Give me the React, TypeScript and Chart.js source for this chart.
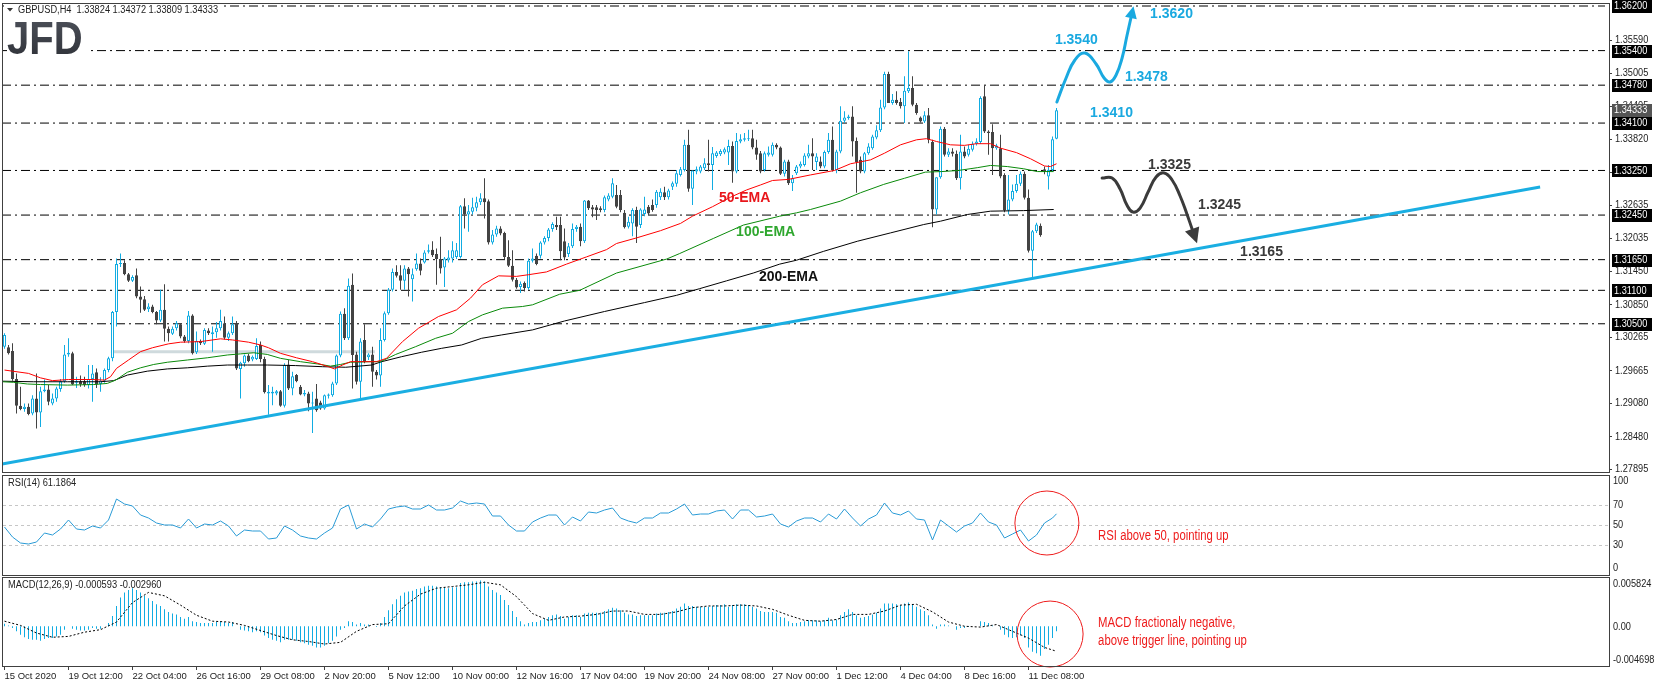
import React, { useEffect, useRef } from "react";
import { Chart, registerables } from "chart.js";

Chart.register(...registerables);
Chart.defaults.font.family = '"Liberation Sans", Arial, sans-serif';

// ---------------- text ----------------
const headerText = "GBPUSD,H4  1.33824 1.34372 1.33809 1.34333";
const rsiTitle = "RSI(14) 61.1864";
const macdTitle = "MACD(12,26,9) -0.000593 -0.002960";

// ---------------- x axis ----------------
const xTickBars = [0, 16, 32, 48, 64, 80, 96, 112, 128, 144, 160, 176, 192, 208, 224, 240, 256];
const xTickLabels = ["15 Oct 2020", "19 Oct 12:00", "22 Oct 04:00", "26 Oct 16:00", "29 Oct 08:00", "2 Nov 20:00", "5 Nov 12:00", "10 Nov 00:00", "12 Nov 16:00", "17 Nov 04:00", "19 Nov 20:00", "24 Nov 08:00", "27 Nov 00:00", "1 Dec 12:00", "4 Dec 04:00", "8 Dec 16:00", "11 Dec 08:00"];

// ---------------- candles (H4) ----------------
const opens = [
1.3009,1.3008,1.3001,1.2951,1.2903,1.2897,1.2901,1.2889,1.2916,1.2891,
1.2929,1.2932,1.2907,1.2916,1.2933,1.2947,1.2995,1.2997,1.2944,1.2947,
1.2947,1.2940,1.2951,1.2963,1.2942,1.2948,1.2967,1.2988,1.3071,1.3157,
1.3159,1.3139,1.3127,1.3137,1.3099,1.3094,1.3076,1.3081,1.3071,1.3056,
1.3075,1.3041,1.3032,1.3042,1.3049,1.3027,1.3019,1.3065,1.2999,1.3019,
1.3014,1.3038,1.3031,1.3035,1.3042,1.3051,1.3025,1.3033,1.3051,1.2969,
1.2979,1.2993,1.2986,1.2987,1.3012,1.2987,1.2925,1.2925,1.2925,1.2929,
1.2903,1.2977,1.2934,1.2958,1.2937,1.2923,1.2925,1.2907,1.2916,1.2909,
1.2898,1.2921,1.2922,1.2943,1.2993,1.3068,1.3024,1.3120,1.2995,1.2946,
1.3021,1.2990,1.2995,1.2964,1.2957,1.3021,1.3069,1.3111,1.3143,1.3137,
1.3127,1.3149,1.3130,1.3148,1.3158,1.3160,1.3179,1.3183,1.3175,1.3166,
1.3151,1.3164,1.3167,1.3170,1.3170,1.3261,1.3246,1.3251,1.3258,1.3268,
1.3275,1.3270,1.3196,1.3210,1.3221,1.3213,1.3170,1.3154,1.3129,1.3116,
1.3123,1.3114,1.3163,1.3172,1.3172,1.3196,1.3204,1.3220,1.3227,1.3227,
1.3198,1.3175,1.3189,1.3220,1.3224,1.3198,1.3271,1.3259,1.3259,1.3257,
1.3254,1.3273,1.3278,1.3281,1.3281,1.3249,1.3224,1.3230,1.3254,1.3227,
1.3247,1.3260,1.3263,1.3263,1.3277,1.3286,1.3277,1.3296,1.3301,1.3317,
1.3326,1.3371,1.3292,1.3323,1.3323,1.3329,1.3338,1.3335,1.3351,1.3354,
1.3357,1.3357,1.3369,1.3323,1.3377,1.3380,1.3381,1.3383,1.3366,1.3356,
1.3326,1.3353,1.3353,1.3371,1.3366,1.3319,1.3341,1.3302,1.3320,1.3332,
1.3335,1.3350,1.3356,1.3340,1.3341,1.3332,1.3358,1.3380,1.3325,1.3359,
1.3414,1.3419,1.3422,1.3378,1.3344,1.3323,1.3356,1.3365,1.3384,1.3397,
1.3438,1.3498,1.3446,1.3452,1.3448,1.3440,1.3467,1.3473,1.3443,1.3420,
1.3413,1.3424,1.3376,1.3255,1.3313,1.3400,1.3353,1.3359,1.3355,1.3311,
1.3359,1.3353,1.3362,1.3373,1.3376,1.3458,1.3395,1.3394,1.3365,1.3365,
1.3317,1.3253,1.3273,1.3288,1.3301,1.3319,1.3276,1.3181,1.3216,1.3226,
1.3327,1.3314,1.3326,1.3382];
const highs = [
1.3033,1.3012,1.3015,1.2961,1.2937,1.2907,1.2907,1.2922,1.2961,1.2937,
1.2950,1.2940,1.2925,1.2937,1.2951,1.3012,1.3024,1.3000,1.2955,1.2957,
1.2955,1.2976,1.2976,1.2970,1.2954,1.2970,1.2991,1.3073,1.3167,1.3176,
1.3164,1.3141,1.3137,1.3149,1.3117,1.3100,1.3087,1.3084,1.3073,1.3111,
1.3121,1.3045,1.3045,1.3055,1.3051,1.3030,1.3073,1.3067,1.3036,1.3022,
1.3042,1.3042,1.3045,1.3053,1.3075,1.3063,1.3036,1.3063,1.3055,1.2982,
1.2995,1.2996,1.2993,1.3024,1.3018,1.2991,1.2940,1.2937,1.2931,1.2931,
1.2979,1.2985,1.2964,1.2960,1.2940,1.2931,1.2928,1.2928,1.2942,1.2912,
1.2923,1.2925,1.2946,1.2995,1.3072,1.3078,1.3131,1.3140,1.3000,1.3024,
1.3049,1.2997,1.3009,1.2967,1.3042,1.3072,1.3114,1.3149,1.3155,1.3155,
1.3155,1.3152,1.3149,1.3176,1.3167,1.3182,1.3192,1.3198,1.3185,1.3206,
1.3170,1.3182,1.3198,1.3195,1.3263,1.3275,1.3263,1.3276,1.3278,1.3284,
1.3311,1.3273,1.3218,1.3226,1.3225,1.3215,1.3200,1.3182,1.3132,1.3126,
1.3126,1.3167,1.3185,1.3176,1.3198,1.3207,1.3222,1.3232,1.3242,1.3242,
1.3221,1.3195,1.3230,1.3227,1.3230,1.3272,1.3272,1.3263,1.3263,1.3261,
1.3280,1.3284,1.3311,1.3299,1.3290,1.3254,1.3242,1.3257,1.3260,1.3257,
1.3278,1.3263,1.3273,1.3290,1.3293,1.3296,1.3292,1.3305,1.3326,1.3331,
1.3380,1.3398,1.3325,1.3332,1.3335,1.3347,1.3380,1.3367,1.3360,1.3363,
1.3366,1.3380,1.3377,1.3392,1.3390,1.3392,1.3398,1.3398,1.3380,1.3360,
1.3359,1.3368,1.3375,1.3374,1.3368,1.3344,1.3344,1.3317,1.3335,1.3341,
1.3356,1.3371,1.3383,1.3356,1.3350,1.3361,1.3392,1.3404,1.3362,1.3440,
1.3431,1.3425,1.3440,1.3384,1.3350,1.3358,1.3374,1.3389,1.3406,1.3452,
1.3502,1.3502,1.3462,1.3467,1.3455,1.3494,1.3539,1.3494,1.3446,1.3422,
1.3431,1.3437,1.3380,1.3313,1.3404,1.3403,1.3365,1.3365,1.3361,1.3389,
1.3368,1.3371,1.3377,1.3383,1.3458,1.3478,1.3397,1.3408,1.3373,1.3389,
1.3320,1.3317,1.3300,1.3317,1.3323,1.3323,1.3291,1.3218,1.3231,1.3230,
1.3332,1.3335,1.3386,1.3437];
const lows = [
1.3005,1.2995,1.2948,1.2889,1.2895,1.2892,1.2886,1.2886,1.2862,1.2865,
1.2927,1.2904,1.2904,1.2910,1.2928,1.2944,1.2991,1.2940,1.2935,1.2937,
1.2937,1.2934,1.2910,1.2935,1.2928,1.2944,1.2963,1.2983,1.3045,1.3152,
1.3137,1.3125,1.3125,1.3096,1.3070,1.3073,1.3071,1.3069,1.3049,1.3053,
1.3018,1.3018,1.3030,1.3038,1.3024,1.3016,1.3015,1.2995,1.2996,1.3012,
1.3012,1.3030,1.3000,1.3025,1.3038,1.3022,1.3019,1.3030,1.2967,1.2916,
1.2973,1.2981,1.2983,1.2985,1.2981,1.2925,1.2887,1.2904,1.2922,1.2901,
1.2900,1.2931,1.2922,1.2945,1.2922,1.2920,1.2893,1.2854,1.2892,1.2896,
1.2896,1.2916,1.2919,1.2940,1.2990,1.3021,1.3021,1.2934,1.2941,1.2916,
1.2979,1.2985,1.2937,1.2950,1.2937,1.3018,1.3066,1.3108,1.3133,1.3111,
1.3111,1.3099,1.3090,1.3145,1.3137,1.3158,1.3176,1.3170,1.3120,1.3140,
1.3116,1.3160,1.3160,1.3166,1.3167,1.3221,1.3215,1.3246,1.3252,1.3263,
1.3239,1.3192,1.3192,1.3206,1.3209,1.3166,1.3152,1.3126,1.3113,1.3105,
1.3108,1.3111,1.3160,1.3155,1.3167,1.3192,1.3198,1.3215,1.3218,1.3164,
1.3164,1.3170,1.3186,1.3215,1.3189,1.3195,1.3254,1.3241,1.3236,1.3250,
1.3250,1.3270,1.3275,1.3257,1.3250,1.3221,1.3221,1.3207,1.3195,1.3222,
1.3243,1.3245,1.3251,1.3258,1.3272,1.3272,1.3273,1.3290,1.3296,1.3314,
1.3323,1.3287,1.3263,1.3318,1.3320,1.3326,1.3323,1.3290,1.3348,1.3351,
1.3354,1.3335,1.3303,1.3320,1.3374,1.3377,1.3378,1.3363,1.3344,1.3320,
1.3323,1.3350,1.3350,1.3363,1.3317,1.3314,1.3299,1.3288,1.3317,1.3329,
1.3332,1.3347,1.3326,1.3326,1.3329,1.3329,1.3355,1.3323,1.3320,1.3356,
1.3410,1.3416,1.3350,1.3285,1.3320,1.3320,1.3353,1.3362,1.3381,1.3394,
1.3435,1.3446,1.3443,1.3443,1.3436,1.3410,1.3464,1.3440,1.3425,1.3411,
1.3410,1.3374,1.3223,1.3246,1.3310,1.3350,1.3349,1.3350,1.3308,1.3291,
1.3347,1.3350,1.3359,1.3370,1.3373,1.3392,1.3353,1.3317,1.3362,1.3311,
1.3250,1.3246,1.3270,1.3285,1.3297,1.3273,1.3178,1.3132,1.3213,1.3206,
1.3318,1.3291,1.3323,1.3381];
const closes = [
1.3030,1.2997,1.2951,1.2903,1.2897,1.2901,1.2888,1.2916,1.2891,1.2929,
1.2932,1.2910,1.2916,1.2934,1.2947,1.2995,1.2998,1.2941,1.2947,1.2942,
1.2940,1.2951,1.2961,1.2941,1.2948,1.2967,1.2988,1.3071,1.3157,1.3159,
1.3139,1.3127,1.3134,1.3099,1.3093,1.3075,1.3081,1.3071,1.3056,1.3075,
1.3041,1.3033,1.3041,1.3051,1.3027,1.3019,1.3065,1.2997,1.3019,1.3015,
1.3039,1.3033,1.3035,1.3042,1.3055,1.3025,1.3033,1.3049,1.2970,1.2980,
1.2993,1.2983,1.2991,1.3010,1.2987,1.2927,1.2928,1.2928,1.2929,1.2903,
1.2976,1.2934,1.2956,1.2947,1.2923,1.2926,1.2907,1.2909,1.2895,1.2898,
1.2922,1.2923,1.2943,1.2993,1.3068,1.3024,1.3118,1.2994,1.2946,1.3018,
1.2982,1.2995,1.2964,1.2957,1.3021,1.3069,1.3111,1.3143,1.3136,1.3127,
1.3149,1.3139,1.3139,1.3158,1.3145,1.3178,1.3182,1.3173,1.3166,1.3149,
1.3167,1.3169,1.3182,1.3182,1.3261,1.3246,1.3252,1.3259,1.3268,1.3275,
1.3268,1.3196,1.3210,1.3221,1.3212,1.3170,1.3154,1.3129,1.3115,1.3122,
1.3114,1.3163,1.3167,1.3157,1.3196,1.3204,1.3219,1.3229,1.3223,1.3180,
1.3169,1.3189,1.3220,1.3224,1.3198,1.3271,1.3257,1.3255,1.3254,1.3254,
1.3277,1.3280,1.3302,1.3260,1.3254,1.3223,1.3233,1.3254,1.3224,1.3255,
1.3255,1.3248,1.3254,1.3287,1.3287,1.3277,1.3289,1.3302,1.3320,1.3327,
1.3371,1.3292,1.3325,1.3327,1.3332,1.3338,1.3335,1.3356,1.3357,1.3360,
1.3363,1.3369,1.3323,1.3378,1.3381,1.3383,1.3383,1.3366,1.3353,1.3323,
1.3356,1.3357,1.3371,1.3366,1.3319,1.3341,1.3302,1.3311,1.3332,1.3337,
1.3352,1.3356,1.3350,1.3350,1.3332,1.3358,1.3380,1.3325,1.3359,1.3414,
1.3420,1.3422,1.3377,1.3340,1.3323,1.3356,1.3368,1.3386,1.3397,1.3438,
1.3498,1.3446,1.3452,1.3446,1.3440,1.3468,1.3473,1.3443,1.3428,1.3413,
1.3424,1.3380,1.3255,1.3313,1.3400,1.3353,1.3359,1.3355,1.3311,1.3359,
1.3350,1.3364,1.3373,1.3377,1.3455,1.3395,1.3392,1.3365,1.3370,1.3314,
1.3253,1.3273,1.3288,1.3301,1.3319,1.3276,1.3181,1.3216,1.3228,1.3209,
1.3323,1.3326,1.3381,1.3433];

// ---------------- moving averages (bar index, value) ----------------
const ema50Bars = [0,2,6,9,12,16,19,22,25,26.5,28,31,34,37,41,44,49,54,57,61,64,66,69,73,77,81,82.5,84.5,86.5,93,95.5,99.5,103.5,108.5,113,116.5,119.5,123.5,128,131,135.5,140.5,145.5,150.5,153,158,164,169,172,177,181.5,185.5,189,192,196,201.5,207.5,211.5,216.5,220,224,228,230.5,233,236.5,240,243,246.5,249,253,256.5,260,261.5,263];
const ema50Vals = [1.2967,1.2965,1.2961,1.2953,1.2948,1.2950,1.2950,1.2950,1.2949,1.2955,1.2970,1.2985,1.3000,1.3007,1.3014,1.3017,1.3018,1.3023,1.3021,1.3017,1.3012,1.3007,1.2997,1.2989,1.2982,1.2973,1.2969,1.2976,1.2982,1.2982,1.2988,1.3018,1.3042,1.3063,1.3075,1.3096,1.3120,1.3136,1.3135,1.3138,1.3143,1.3157,1.3170,1.3183,1.3194,1.3204,1.3217,1.3230,1.3243,1.3260,1.3277,1.3290,1.3299,1.3307,1.3309,1.3317,1.3325,1.3337,1.3344,1.3356,1.3371,1.3380,1.3382,1.3377,1.3371,1.3370,1.3373,1.3373,1.3365,1.3357,1.3346,1.3333,1.3332,1.3337];
const ema100Bars = [-0.5,2.3,5.7,9,15.7,22.3,25.7,27.8,30.7,34,37.3,40.7,45.7,50.7,55.7,59,62.3,65.7,69,74,78.2,81.5,84,86.5,91.5,94,97.8,102.8,107.8,112,116,119.5,124.5,129.5,132,138.8,143.8,153,165.5,168.8,177.2,184.7,193.8,198,201.5,209,214,219.8,225,230.2,234.3,238.5,243.2,246.5,250.7,254.8,258.2,262.3];
const ema100Vals = [1.2946,1.2945,1.2942,1.2941,1.2940,1.2941,1.2943,1.2949,1.2963,1.2971,1.2977,1.2981,1.2985,1.2989,1.2994,1.2996,1.2998,1.2995,1.2988,1.2982,1.2978,1.2974,1.2977,1.2981,1.2982,1.2982,1.2995,1.3009,1.3024,1.3033,1.3054,1.3066,1.3078,1.3081,1.3084,1.3103,1.3110,1.3141,1.3166,1.3176,1.3203,1.3227,1.3243,1.3249,1.3255,1.3270,1.3285,1.3300,1.3311,1.3322,1.3323,1.3325,1.3330,1.3334,1.3332,1.3328,1.3323,1.3323];
const ema200Bars = [-0.5,7.3,15.7,24,27.3,30.7,35.7,40.7,45.7,50.7,55.7,60.7,65.7,72.8,79.5,85.3,91.8,94.3,99.3,104.3,109.3,114.3,119.3,124.3,132,140,150,160,168,173.8,180.5,187.2,193.8,198,204.8,213.2,221.5,229.8,234,240.7,246.5,254.8,262.3];
const ema200Vals = [1.2947,1.2946,1.2946,1.2946,1.2948,1.2958,1.2965,1.2969,1.2971,1.2974,1.2976,1.2976,1.2976,1.2975,1.2973,1.2972,1.2976,1.2982,1.2991,1.2999,1.3006,1.3012,1.3024,1.3030,1.3039,1.3055,1.3072,1.3088,1.3101,1.3113,1.3127,1.3141,1.3157,1.3164,1.3180,1.3198,1.3213,1.3228,1.3234,1.3246,1.3252,1.3253,1.3255];

// ---------------- drawn objects (bar index, price) ----------------
const levelPrices = [1.362, 1.354, 1.3478, 1.341, 1.3325, 1.3245, 1.3165, 1.311, 1.305];
const trendBars = [-0.625, 383.9];
const trendPrices = [1.27985, 1.32953];
const bandBars = [26.6, 92.6];
const bandPrices = [1.3, 1.3];
const bluePathBars = [263.1, 265.4, 267.6, 270.1, 272.9, 274.9, 276.4, 277.9, 279.4, 280.6, 281.6];
const bluePathPrices = [1.34478, 1.34908, 1.35231, 1.35357, 1.3516, 1.34908, 1.34837, 1.34962, 1.35267, 1.35662, 1.35985];
const blackPathBars = [274.4, 276.9, 278.9, 280.6, 282.1, 283.9, 285.9, 287.9, 289.9, 291.9, 293.9, 295.6, 296.9];
const blackPathPrices = [1.33114, 1.33114, 1.32917, 1.3263, 1.32504, 1.32576, 1.32863, 1.33133, 1.33205, 1.33079, 1.32792, 1.32469, 1.322];

const blueNotes = ["1.3620", "1.3540", "1.3478", "1.3410"];
const blueNoteBars = [286.4, 262.6, 280.1, 271.4];
const blueNotePrices = [1.36056, 1.3559, 1.34926, 1.34281];
const darkNotes = ["1.3325", "1.3245", "1.3165"];
const darkNoteBars = [285.9, 298.4, 308.9];
const darkNotePrices = [1.33348, 1.32631, 1.31787];
const emaNotes = ["50-EMA", "100-EMA", "200-EMA"];
const emaNoteBars = [178.6, 182.9, 188.6];
const emaNotePrices = [1.32756, 1.32146, 1.31339];
const emaNoteColors = ["#e8161b", "#2fa72f", "#111111"];

// ---------------- price axis ----------------
const priceTicks = [1.3559, 1.35005, 1.34405, 1.3382, 1.3322, 1.32635, 1.32035, 1.3145, 1.3085, 1.30265, 1.29665, 1.2908, 1.2848, 1.27895];
const lastPrice = 1.34333;

// ---------------- RSI(14) ----------------
const rsiStep = 2;
const rsiVals = [
48,38,32,31,33,42,40,46,55,46,
45,49,47,55,76,71,69,60,57,52,
50,50,47,56,47,51,50,54,49,39,
45,44,44,36,37,49,45,39,37,36,
42,47,66,70,46,51,48,56,66,68,
69,66,66,70,65,65,67,74,71,72,
71,59,59,50,44,44,53,57,60,60,
50,58,54,63,62,65,67,57,54,52,
57,57,62,62,66,71,60,61,61,64,
65,56,65,65,58,59,61,51,48,54,
57,57,53,61,56,66,57,49,56,60,
72,62,60,64,56,55,35,55,49,43,
49,52,62,53,50,37,41,45,34,40,
52,57];
const rsiLastBar = 263;
const rsiLastVal = 61.1864;
const rsiLevels = [70, 50, 30];
const rsiAxisLabels = [100, 70, 50, 30, 0];

// ---------------- MACD(12,26,9) ----------------
const macdHist = [
0.0003,0.0001,-0.0002,-0.0006,-0.0010,-0.0013,-0.0015,-0.0016,-0.0016,-0.0017,
-0.0015,-0.0014,-0.0014,-0.0012,-0.0010,-0.0004,0.0000,-0.0003,-0.0004,-0.0005,
-0.0005,-0.0004,-0.0002,-0.0003,-0.0003,0.0000,0.0004,0.0012,0.0024,0.0034,
0.0040,0.0043,0.0045,0.0043,0.0040,0.0036,0.0033,0.0030,0.0026,0.0024,
0.0020,0.0017,0.0015,0.0014,0.0011,0.0009,0.0011,0.0006,0.0005,0.0004,
0.0004,0.0004,0.0004,0.0005,0.0006,0.0005,0.0004,0.0005,0.0000,-0.0004,
-0.0005,-0.0006,-0.0007,-0.0006,-0.0007,-0.0011,-0.0014,-0.0016,-0.0017,-0.0019,
-0.0016,-0.0016,-0.0016,-0.0017,-0.0019,-0.0020,-0.0022,-0.0023,-0.0025,-0.0025,
-0.0023,-0.0020,-0.0017,-0.0012,-0.0004,-0.0002,0.0006,0.0005,0.0002,0.0004,
0.0002,0.0002,0.0000,-0.0001,0.0004,0.0011,0.0019,0.0026,0.0032,0.0036,
0.0040,0.0041,0.0042,0.0044,0.0045,0.0047,0.0048,0.0048,0.0047,0.0046,
0.0046,0.0045,0.0046,0.0046,0.0051,0.0052,0.0052,0.0053,0.0053,0.0054,
0.0053,0.0047,0.0043,0.0040,0.0037,0.0031,0.0025,0.0018,0.0011,0.0006,
0.0002,0.0004,0.0005,0.0005,0.0007,0.0009,0.0011,0.0013,0.0014,0.0012,
0.0009,0.0011,0.0013,0.0013,0.0011,0.0015,0.0016,0.0016,0.0016,0.0016,
0.0018,0.0020,0.0022,0.0021,0.0019,0.0016,0.0014,0.0014,0.0012,0.0013,
0.0013,0.0013,0.0013,0.0015,0.0016,0.0016,0.0017,0.0018,0.0021,0.0023,
0.0027,0.0024,0.0024,0.0023,0.0023,0.0023,0.0023,0.0024,0.0025,0.0025,
0.0026,0.0023,0.0025,0.0026,0.0026,0.0026,0.0025,0.0023,0.0021,0.0018,
0.0017,0.0017,0.0017,0.0016,0.0011,0.0010,0.0006,0.0004,0.0004,0.0005,
0.0006,0.0007,0.0007,0.0007,0.0006,0.0007,0.0010,0.0007,0.0008,0.0013,
0.0017,0.0020,0.0017,0.0013,0.0010,0.0011,0.0012,0.0014,0.0016,0.0021,
0.0027,0.0027,0.0027,0.0026,0.0025,0.0027,0.0028,0.0026,0.0023,0.0020,
0.0018,0.0013,0.0002,-0.0003,0.0002,0.0002,0.0001,0.0000,-0.0004,-0.0002,
-0.0002,-0.0001,0.0000,0.0000,0.0006,0.0005,0.0004,0.0001,0.0000,-0.0004,
-0.0010,-0.0013,-0.0014,-0.0013,-0.0011,-0.0014,-0.0025,-0.0030,-0.0032,-0.0035,
-0.0027,-0.0022,-0.0014,-0.000593];
const signalBars = [0,4,8,12,16,20,24,28,32,36,40,44,48,52,56,60,64,68,72,76,80,84,88,92,96,100,104,108,112,116,120,124,128,132,136,140,144,148,152,156,160,164,168,172,176,180,184,188,192,196,200,204,208,212,216,220,224,228,232,236,240,244,248,252,256,260,263];
const signalVals = [0.0006,0.0001,-0.0008,-0.0013,-0.0012,-0.0007,-0.0004,0.0005,0.0028,0.0040,0.0036,0.0025,0.0013,0.0006,0.0005,0.0001,-0.0005,-0.0011,-0.0016,-0.0018,-0.0021,-0.0019,-0.0006,0.0002,0.0003,0.0024,0.0038,0.0045,0.0047,0.0049,0.0052,0.0049,0.0035,0.0015,0.0007,0.0011,0.0012,0.0014,0.0018,0.0018,0.0014,0.0014,0.0017,0.0022,0.0024,0.0024,0.0025,0.0024,0.0020,0.0013,0.0007,0.0006,0.0008,0.0014,0.0014,0.0018,0.0025,0.0026,0.0017,0.0005,0.0000,-0.0001,0.0002,-0.0006,-0.0014,-0.0025,-0.00296];
const macdTop = 0.005824;
const macdBottom = -0.004698;

// ---------------- notes in the sub-windows ----------------
const rsiNote = "RSI above 50, pointing up";
const rsiNoteBar = 273.4;
const rsiNoteVal = 39;
const rsiCircleBar = 260.6;
const rsiCircleVal = 52;
const macdNotes = ["MACD fractionaly negative,", "above trigger line, pointing up"];
const macdNoteBar = 273.4;
const macdNoteVals = [0.00041, -0.00178];
const macdCircleBar = 261.4;
const macdCircleVal = -0.00092;

// ---------------- layout of the scales ----------------
const W = 1655;
const H = 687;
const X_MIN = -0.625;
const X_MAX = 401.125;
const PRICE_PX = 5575; // pixels per 1.0 of price
const Y_MAX = 1.362 + 3 / PRICE_PX;
const Y_MIN = 1.362 - 660 / PRICE_PX;
const MAIN_BOTTOM = 1.362 - 466 / PRICE_PX;
const RSI_MIN = -91;
const RSI_MAX = 572;
const M_SPAN = (macdTop - macdBottom) / 89;
const MACD_MIN = macdBottom;
const MACD_MAX = macdBottom + 663 * M_SPAN;

const CYAN = "#11ace2";
const DARK = "#434343";
const BLUE = "#1aa9e0";
const PATH_DARK = "#3b3b3b";
const SMALL_FONT = '10px "Liberation Sans", Arial, sans-serif';

const isUp = (i: number) => closes[i] >= opens[i];

function arrowHead(ctx: any, pts: number[][], color: string, size: number) {
  const n = pts.length;
  const [x0, y0] = pts[n - 2];
  const [x1, y1] = pts[n - 1];
  const len = Math.hypot(x1 - x0, y1 - y0) || 1;
  const dx = (x1 - x0) / len;
  const dy = (y1 - y0) / len;
  const tx = x1 + dx * size;
  const ty = y1 + dy * size;
  const half = size * 0.5;
  ctx.fillStyle = color;
  ctx.beginPath();
  ctx.moveTo(tx, ty);
  ctx.lineTo(x1 - dy * half, y1 + dx * half);
  ctx.lineTo(x1 + dy * half, y1 - dx * half);
  ctx.closePath();
  ctx.fill();
}

function narrowText(ctx: any, s: string, px: number, py: number, sx: number) {
  ctx.save();
  ctx.translate(px, py);
  ctx.scale(sx, 1);
  ctx.fillText(s, 0, 0);
  ctx.restore();
}

const overlay = {
  id: "overlay",
  beforeDatasetsDraw(chart: any) {
    const { ctx, chartArea: ca, scales } = chart;
    ctx.save();
    ctx.strokeStyle = "#c6c6c6";
    ctx.lineWidth = 1;
    ctx.setLineDash([3, 3]);
    for (const lv of rsiLevels) {
      const yy = Math.round(scales.yr.getPixelForValue(lv)) + 0.5;
      ctx.beginPath();
      ctx.moveTo(ca.left + 1, yy);
      ctx.lineTo(ca.right - 1, yy);
      ctx.stroke();
    }
    ctx.restore();
  },
  afterDatasetsDraw(chart: any) {
    const { ctx, chartArea: ca, scales } = chart;
    const { x, y, yr, ym } = scales;
    ctx.save();
    ctx.setLineDash([]);

    // arrowheads of the drawn paths
    arrowHead(ctx, bluePathBars.map((b, i) => [x.getPixelForValue(b), y.getPixelForValue(bluePathPrices[i])]), BLUE, 12);
    arrowHead(ctx, blackPathBars.map((b, i) => [x.getPixelForValue(b), y.getPixelForValue(blackPathPrices[i])]), PATH_DARK, 15);

    // labels in the main window
    ctx.textBaseline = "middle";
    ctx.textAlign = "left";
    ctx.font = 'bold 14px "Liberation Sans", Arial, sans-serif';
    ctx.fillStyle = BLUE;
    blueNotes.forEach((s, i) => ctx.fillText(s, x.getPixelForValue(blueNoteBars[i]), y.getPixelForValue(blueNotePrices[i])));
    ctx.fillStyle = "#3a3a3a";
    darkNotes.forEach((s, i) => ctx.fillText(s, x.getPixelForValue(darkNoteBars[i]), y.getPixelForValue(darkNotePrices[i])));
    emaNotes.forEach((s, i) => {
      ctx.fillStyle = emaNoteColors[i];
      ctx.fillText(s, x.getPixelForValue(emaNoteBars[i]), y.getPixelForValue(emaNotePrices[i]));
    });

    // header
    ctx.fillStyle = "#ffffff";
    ctx.fillRect(4, 4, 216, 12);
    ctx.fillStyle = "#333";
    ctx.beginPath();
    ctx.moveTo(7, 8);
    ctx.lineTo(13, 8);
    ctx.lineTo(10, 11.5);
    ctx.closePath();
    ctx.fill();
    ctx.font = SMALL_FONT;
    ctx.fillStyle = "#222";
    narrowText(ctx, headerText, 18, 10.5, 0.925);

    // logo
    ctx.fillStyle = "#ffffff";
    ctx.fillRect(7, 17, 81, 40);
    ctx.save();
    ctx.translate(7, 54);
    ctx.scale(0.87, 1);
    ctx.textBaseline = "alphabetic";
    ctx.font = 'bold 46px "Liberation Sans", Arial, sans-serif';
    const grad = ctx.createLinearGradient(0, -34, 0, 0);
    grad.addColorStop(0, "#4a4e57");
    grad.addColorStop(1, "#33363d");
    ctx.fillStyle = grad;
    ctx.fillText("JFD", 0, 0);
    ctx.restore();

    // sub-window titles
    ctx.font = SMALL_FONT;
    ctx.fillStyle = "#222";
    narrowText(ctx, rsiTitle, 8, yr.getPixelForValue(100) + 8.5, 0.93);
    narrowText(ctx, macdTitle, 8, ym.getPixelForValue(macdTop) + 8.5, 0.93);

    // red circles and notes
    ctx.strokeStyle = "#ee1c1c";
    ctx.lineWidth = 1;
    ctx.beginPath();
    ctx.arc(x.getPixelForValue(rsiCircleBar), yr.getPixelForValue(rsiCircleVal), 32, 0, Math.PI * 2);
    ctx.stroke();
    ctx.beginPath();
    ctx.arc(x.getPixelForValue(macdCircleBar), ym.getPixelForValue(macdCircleVal), 33, 0, Math.PI * 2);
    ctx.stroke();
    ctx.fillStyle = "#ee1c1c";
    ctx.font = '14px "Liberation Sans", Arial, sans-serif';
    narrowText(ctx, rsiNote, x.getPixelForValue(rsiNoteBar), yr.getPixelForValue(rsiNoteVal), 0.81);
    macdNotes.forEach((s, i) => narrowText(ctx, s, x.getPixelForValue(macdNoteBar), ym.getPixelForValue(macdNoteVals[i]), 0.81));

    // panel frames
    ctx.strokeStyle = "#404040";
    ctx.lineWidth = 1;
    const frame = (t: number, b: number) => {
      const tt = Math.round(t) + 0.5;
      const bb = Math.round(b) + 0.5;
      ctx.strokeRect(ca.left + 0.5, tt, ca.right - ca.left, bb - tt);
    };
    frame(y.getPixelForValue(Y_MAX), y.getPixelForValue(MAIN_BOTTOM));
    frame(yr.getPixelForValue(100), yr.getPixelForValue(0));
    frame(ym.getPixelForValue(macdTop), ym.getPixelForValue(macdBottom));

    // right price axis
    const ax = ca.right + 1;
    const SX = 0.92;
    ctx.font = SMALL_FONT;
    ctx.fillStyle = "#222";
    ctx.strokeStyle = "#404040";
    for (const p of priceTicks) {
      const yy = y.getPixelForValue(p);
      ctx.beginPath();
      ctx.moveTo(ca.right, Math.round(yy) + 0.5);
      ctx.lineTo(ca.right + 3, Math.round(yy) + 0.5);
      ctx.stroke();
      narrowText(ctx, p.toFixed(5), ax + 5, yy + 0.5, SX);
    }
    for (const p of levelPrices) {
      const yy = y.getPixelForValue(p);
      ctx.fillStyle = "#000";
      ctx.fillRect(ax + 2, Math.round(yy) - 6, 40, 13);
      ctx.fillStyle = "#fff";
      narrowText(ctx, p.toFixed(5), ax + 4, yy + 0.5, SX);
    }
    {
      const yy = y.getPixelForValue(lastPrice);
      ctx.fillStyle = "#555";
      ctx.fillRect(ax + 2, Math.round(yy) - 6, 40, 13);
      ctx.fillStyle = "#fff";
      narrowText(ctx, lastPrice.toFixed(5), ax + 4, yy + 0.5, SX);
    }
    // RSI axis
    ctx.fillStyle = "#222";
    for (const v of rsiAxisLabels) {
      let yy = yr.getPixelForValue(v);
      if (v === 100) yy += 6;
      if (v === 0) yy -= 7;
      narrowText(ctx, String(v), ax + 3, yy, SX);
    }
    // MACD axis
    narrowText(ctx, macdTop.toFixed(6), ax + 3, ym.getPixelForValue(macdTop) + 7, SX);
    narrowText(ctx, "0.00", ax + 3, ym.getPixelForValue(0) + 0.5, SX);
    narrowText(ctx, macdBottom.toFixed(6), ax + 3, ym.getPixelForValue(macdBottom) - 6, SX);
    ctx.restore();
  },
};

function buildConfig(): any {
  const xy = (bars: number[], vals: number[]) => bars.map((b, i) => ({ x: b, y: vals[i] }));
  const line = (data: any[], color: string, width: number, yAxisID: string, order: number, extra: any = {}) => ({
    type: "line",
    data,
    borderColor: color,
    borderWidth: width,
    pointRadius: 0,
    tension: 0,
    fill: false,
    yAxisID,
    order,
    ...extra,
  });
  const rsiData = rsiVals.map((v, i) => ({ x: i * rsiStep, y: v }));
  rsiData.push({ x: rsiLastBar, y: rsiLastVal });

  const datasets: any[] = [
    ...levelPrices.map((p) =>
      line([{ x: X_MIN, y: p }, { x: X_MAX - 1, y: p }], "#000", 1, "y", 30, { borderDash: [9, 4, 2, 4] })
    ),
    line(xy(bandBars, bandPrices), "#cfdadd", 3, "y", 29),
    {
      type: "bar",
      data: closes.map((_, i) => ({ x: i, y: [lows[i], highs[i]] })),
      backgroundColor: (c: any) => (isUp(c.dataIndex) ? CYAN : DARK),
      borderWidth: 0,
      barThickness: 1,
      grouped: false,
      inflateAmount: 0,
      yAxisID: "y",
      order: 20,
    },
    {
      type: "bar",
      data: closes.map((c, i) => ({ x: i, y: [opens[i], c] })),
      backgroundColor: (c: any) => (isUp(c.dataIndex) ? "#ffffff" : DARK),
      borderColor: (c: any) => (isUp(c.dataIndex) ? CYAN : DARK),
      borderWidth: 1,
      borderSkipped: false,
      barThickness: 3,
      minBarLength: 1,
      grouped: false,
      inflateAmount: 0,
      yAxisID: "y",
      order: 19,
    },
    line(xy(ema200Bars, ema200Vals), "#000000", 1, "y", 12),
    line(xy(ema100Bars, ema100Vals), "#0a8a0a", 1, "y", 11),
    line(xy(ema50Bars, ema50Vals), "#ff0000", 1, "y", 10),
    line(xy(trendBars, trendPrices), "#1aaee2", 3, "y", 9),
    line(xy(bluePathBars, bluePathPrices), BLUE, 3, "y", 8, { tension: 0.45, borderCapStyle: "round" }),
    line(xy(blackPathBars, blackPathPrices), PATH_DARK, 3, "y", 8, { tension: 0.45, borderCapStyle: "round" }),
    line(rsiData, "#2a9bd6", 1, "yr", 10),
    {
      type: "bar",
      data: macdHist.map((v, i) => ({ x: i, y: v })),
      backgroundColor: CYAN,
      borderWidth: 0,
      barThickness: 1,
      grouped: false,
      inflateAmount: 0,
      yAxisID: "ym",
      order: 12,
    },
    line(xy(signalBars, signalVals), "#000000", 1, "ym", 10, { borderDash: [2, 2] }),
  ];

  return {
    type: "bar",
    data: { datasets },
    plugins: [overlay],
    options: {
      responsive: false,
      animation: false,
      devicePixelRatio: 1,
      events: [],
      layout: { padding: { left: 2, top: 3, right: 46, bottom: 0 } },
      plugins: { legend: { display: false }, tooltip: { enabled: false }, title: { display: false } },
      scales: {
        x: {
          type: "linear",
          min: X_MIN,
          max: X_MAX,
          offset: false,
          grid: { display: true, drawOnChartArea: false, drawTicks: true, tickLength: 4, color: "#404040", offset: false },
          border: { display: true, color: "#404040" },
          ticks: {
            autoSkip: false,
            maxRotation: 0,
            minRotation: 0,
            align: "start",
            padding: 1,
            color: "#222",
            font: { family: '"Liberation Sans", Arial, sans-serif', size: 9.5 },
            callback: (_v: any, i: number) => xTickLabels[i] ?? "",
          },
          afterBuildTicks: (s: any) => {
            s.ticks = xTickBars.map((v) => ({ value: v }));
          },
          afterFit: (s: any) => {
            s.height = 21;
          },
        },
        y: { type: "linear", display: false, min: Y_MIN, max: Y_MAX },
        yr: { type: "linear", display: false, min: RSI_MIN, max: RSI_MAX },
        ym: { type: "linear", display: false, min: MACD_MIN, max: MACD_MAX },
      },
    },
  };
}

export default function App() {
  const ref = useRef<HTMLCanvasElement | null>(null);
  useEffect(() => {
    if (!ref.current) return;
    const chart = new Chart(ref.current, buildConfig());
    return () => chart.destroy();
  }, []);
  return (
    <div style={{ position: "fixed", left: 0, top: 0, width: W, height: H, background: "#ffffff" }}>
      <canvas ref={ref} width={W} height={H} style={{ display: "block", width: W, height: H }} />
    </div>
  );
}
